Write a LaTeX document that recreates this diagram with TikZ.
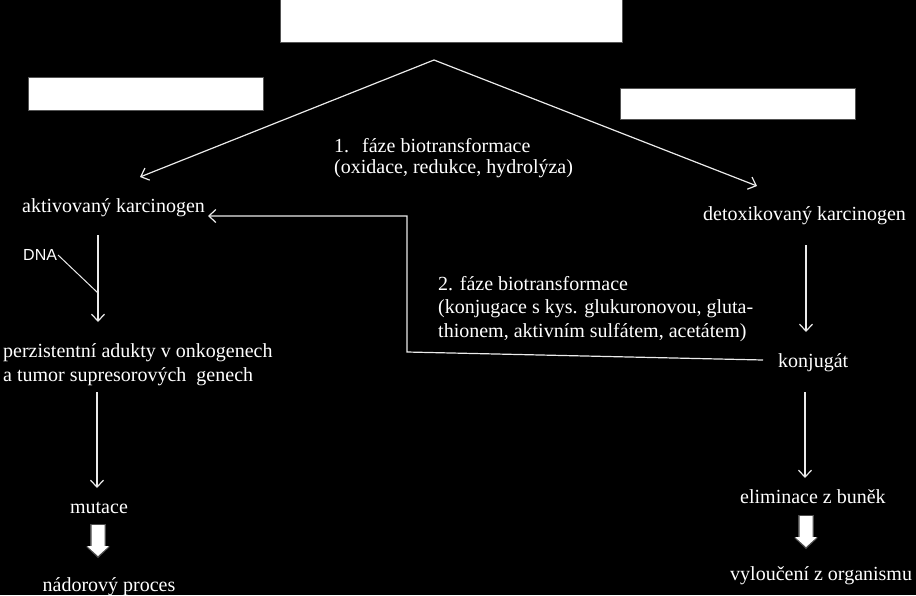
\documentclass[tikz,border=0pt]{standalone}
\usepackage{fontspec}
\setmainfont{Liberation Serif}
\newfontfamily\dnafont{Liberation Sans}
\usetikzlibrary{arrows.meta}
\tikzset{
  wbox/.style={fill=white, draw=none, inner sep=0pt},
  glow/.style={draw=white!55!black, line width=1.6pt, draw opacity=0.6},
  lbl/.style={text=white, inner sep=0pt, font=\fontsize{20}{21}\selectfont},
  conn/.style={draw=white!92!black, line width=1.2pt},
  arr/.style={conn, -{Straight Barb[length=7pt,width=13pt,line width=1.2pt]}},
  blockarrow/.pic={
    \fill[white!60!black, opacity=0.5] (-7.8,-1) -- (7.8,-1) -- (7.8,21.5) -- (12.2,21.5) -- (0,33) -- (-12.2,21.5) -- (-7.8,21.5) -- cycle;
    \fill[white] (-6.5,0) -- (6.5,0) -- (6.5,21) -- (11,21) -- (0,31) -- (-11,21) -- (-6.5,21) -- cycle;
  }
}
\begin{document}
\begin{tikzpicture}[x=1pt,y=-1pt]
\fill[black] (0,0) rectangle (916,595);
\useasboundingbox (0,0) rectangle (916,595);

% white boxes
\draw[glow] (281,-2) rectangle (622,42);
\node[wbox, minimum width=341pt, minimum height=44pt] (topbox) at (451.5,20) {};
\draw[glow] (29,78) rectangle (263,110);
\node[wbox, minimum width=234pt, minimum height=32pt] (leftbox) at (146,94) {};
\draw[glow] (621,89) rectangle (855,119);
\node[wbox, minimum width=234pt, minimum height=30pt] (rightbox) at (738,104) {};

% texts (base anchor of a multi-line node = baseline of its last line)
\node[lbl, anchor=base west] (aktiv) at (22,212) {aktivovaný karcinogen};
\node[lbl, anchor=base west] (detox) at (703,220) {detoxikovaný karcinogen};
\node[lbl, anchor=base west, align=left] (phase1) at (334,173)
  {1.\hspace{13pt}fáze biotransformace\\(oxidace, redukce, hydrolýza)};
\node[lbl, anchor=base west, align=left, font=\fontsize{20}{23.5}\selectfont] (phase2) at (438,337)
  {2. fáze biotransformace\\(konjugace s kys. glukuronovou, gluta-\\thionem, aktivním sulfátem, acetátem)};
\node[text=white, inner sep=0pt, anchor=base west, font=\dnafont\fontsize{16}{17}\selectfont] (dna) at (23,260) {DNA};
\node[lbl, anchor=base west, align=left, font=\fontsize{20}{23.5}\selectfont] (perz) at (3,381)
  {perzistentní adukty v onkogenech\\a tumor supresorových\ \ genech};
\node[lbl, anchor=base] (mutace) at (99,513) {mutace};
\node[lbl, anchor=base] (nador) at (109,591) {nádorový proces};
\node[lbl, anchor=base west] (konj) at (778,367) {konjugát};
\node[lbl, anchor=base west] (elim) at (740,503) {eliminace z buněk};
\node[lbl, anchor=base west] (vyl) at (730,580) {vyloučení z organismu};

% connector end points
\coordinate (apex) at (434,60);
\coordinate (aktivIn) at (140,177);
\coordinate (detoxIn) at (757,186);
\coordinate (aktivOut) at (98,235);
\coordinate (perzIn) at (98,322);
\coordinate (dnaJoin) at (98,293);
\coordinate (perzOut) at (97,392);
\coordinate (mutIn) at (97,488);
\coordinate (detoxOut) at (806,245);
\coordinate (konjIn) at (806,332);
\coordinate (konjOut) at (805,392);
\coordinate (elimIn) at (805,478);
\coordinate (konjLeft) at (763,360);
\coordinate (loopA) at (407,352);
\coordinate (loopB) at (407,216);
\coordinate (aktivRight) at (208,216);

% connectors
\draw[arr] (apex) -- (aktivIn);
\draw[arr] (apex) -- (detoxIn);
\draw[arr] (aktivOut) -- (perzIn);
\draw[conn, line width=1pt] ([xshift=35pt,yshift=5pt]dna.base west) -- (dnaJoin);
\draw[arr] (perzOut) -- (mutIn);
\draw[arr] (detoxOut) -- (konjIn);
\draw[arr] (konjOut) -- (elimIn);
\draw[arr] (konjLeft) -- (loopA) -- (loopB) -- (aktivRight);

% block arrows
\pic at (98,525) {blockarrow};
\pic at (806,516) {blockarrow};
\end{tikzpicture}
\end{document}
